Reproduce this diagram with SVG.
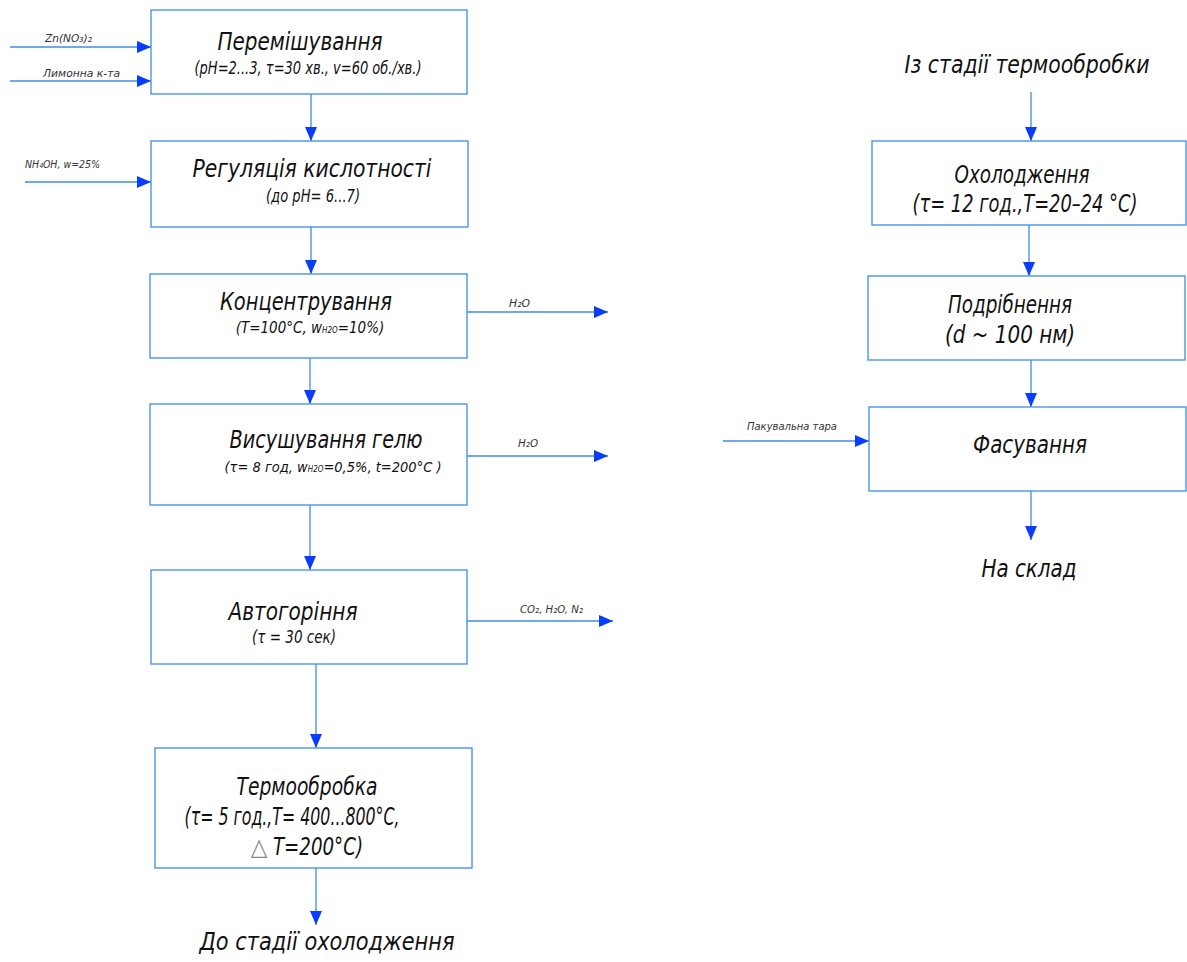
<svg xmlns="http://www.w3.org/2000/svg" width="1187" height="962" viewBox="0 0 1187 962">
<style>
.box{fill:#fff;stroke:#3b8ee6;stroke-width:1.3}
.ln{stroke:#3b8ee6;stroke-width:1.3;fill:none;marker-end:url(#ah)}
text{font-family:"DejaVu Sans Condensed","DejaVu Sans",sans-serif;font-style:italic;fill:#111;text-anchor:middle}
.t{font-size:24px}
.s{font-size:17px}
.l{font-size:11px;fill:#333;text-anchor:start}
</style>
<defs>
<marker id="ah" markerUnits="userSpaceOnUse" markerWidth="14" markerHeight="12" refX="14" refY="6" orient="auto">
<path d="M0,0 L14,6 L0,12 z" fill="#0a3cff"/>
</marker>
</defs>
<rect width="1187" height="962" fill="#fff"/>
<g id="connectors">
<line class="ln" x1="10" y1="47" x2="151" y2="47"/>
<line class="ln" x1="10" y1="81" x2="151" y2="81"/>
<line class="ln" x1="25" y1="182" x2="151" y2="182"/>
<line class="ln" x1="311" y1="94" x2="311" y2="141"/>
<line class="ln" x1="311" y1="227" x2="311" y2="274"/>
<line class="ln" x1="310" y1="358" x2="310" y2="404"/>
<line class="ln" x1="310" y1="505" x2="310" y2="570"/>
<line class="ln" x1="316" y1="664" x2="316" y2="748"/>
<line class="ln" x1="316" y1="868" x2="316" y2="925"/>
<line class="ln" x1="467" y1="312" x2="608" y2="312"/>
<line class="ln" x1="467" y1="456" x2="608" y2="456"/>
<line class="ln" x1="467" y1="621" x2="613" y2="621"/>
<line class="ln" x1="1031" y1="92" x2="1031" y2="141"/>
<line class="ln" x1="1029" y1="225" x2="1029" y2="276"/>
<line class="ln" x1="1031" y1="360" x2="1031" y2="407"/>
<line class="ln" x1="1031" y1="491" x2="1031" y2="540"/>
<line class="ln" x1="723" y1="441" x2="869" y2="441"/>
<text class="l" x="45" y="42" textLength="47" lengthAdjust="spacingAndGlyphs">Zn(NO₃)₂</text>
<text class="l" x="43" y="77" textLength="77" lengthAdjust="spacingAndGlyphs">Лимонна к-та</text>
<text class="l" x="25" y="168" textLength="75" lengthAdjust="spacingAndGlyphs">NH₄OH, w=25%</text>
<text class="l" x="509" y="307" textLength="21" lengthAdjust="spacingAndGlyphs">H₂O</text>
<text class="l" x="518" y="447" textLength="20" lengthAdjust="spacingAndGlyphs">H₂O</text>
<text class="l" x="520" y="613" textLength="63" lengthAdjust="spacingAndGlyphs">CO₂, H₂O, N₂</text>
<text class="l" x="747" y="430" textLength="90" lengthAdjust="spacingAndGlyphs">Пакувальна тара</text>
</g>
<g id="n1">
<rect class="box" x="151" y="10" width="316" height="84"/>
<text class="t" x="300" y="50" textLength="165" lengthAdjust="spacingAndGlyphs">Перемішування</text>
<text class="s" x="308" y="74" textLength="227" lengthAdjust="spacingAndGlyphs">(pH=2...3, τ=30 хв., v=60 об./хв.)</text>
</g>
<g id="n2">
<rect class="box" x="151" y="141" width="317" height="86"/>
<text class="t" x="312" y="177" textLength="239" lengthAdjust="spacingAndGlyphs">Регуляція кислотності</text>
<text class="s" x="313" y="202" textLength="94" lengthAdjust="spacingAndGlyphs">(до pH= 6...7)</text>
</g>
<g id="n3">
<rect class="box" x="150" y="274" width="317" height="84"/>
<text class="t" x="306" y="310" textLength="172" lengthAdjust="spacingAndGlyphs">Концентрування</text>
<text x="310" y="333" font-size="15">(T=100°C, w<tspan font-size="8">H2O</tspan>=10%)</text>
</g>
<g id="n4">
<rect class="box" x="150" y="404" width="317" height="101"/>
<text class="t" x="326" y="448" textLength="193" lengthAdjust="spacingAndGlyphs">Висушування гелю</text>
<text x="333" y="472" font-size="14.5">(τ= 8 год, w<tspan font-size="8">H2O</tspan>=0,5%, t=200°C )</text>
</g>
<g id="n5">
<rect class="box" x="151" y="570" width="316" height="94"/>
<text class="t" x="293" y="620" textLength="129" lengthAdjust="spacingAndGlyphs">Автогоріння</text>
<text class="s" x="294" y="643" textLength="84" lengthAdjust="spacingAndGlyphs">(τ = 30 сек)</text>
</g>
<g id="n6">
<rect class="box" x="155" y="748" width="317" height="120"/>
<text class="t" x="307" y="795" textLength="141" lengthAdjust="spacingAndGlyphs">Термообробка</text>
<text class="t" x="292" y="825" textLength="215" lengthAdjust="spacingAndGlyphs">(τ= 5 год.,T= 400...800°C,</text>
<text class="t" x="259" y="855" style="fill:#888">△</text>
<text class="t" x="318" y="855" textLength="90" lengthAdjust="spacingAndGlyphs">T=200°C)</text>
</g>
<g id="out1">
<text class="t" x="327" y="950" textLength="255" lengthAdjust="spacingAndGlyphs">До стадії охолодження</text>
</g>
<g id="in2">
<text class="t" x="1027" y="73" textLength="245" lengthAdjust="spacingAndGlyphs">Із стадії термообробки</text>
</g>
<g id="n7">
<rect class="box" x="872" y="141" width="314" height="84"/>
<text class="t" x="1022" y="183" textLength="135" lengthAdjust="spacingAndGlyphs">Охолодження</text>
<text class="t" x="1025" y="212" textLength="225" lengthAdjust="spacingAndGlyphs">(τ= 12 год.,T=20–24 °C)</text>
</g>
<g id="n8">
<rect class="box" x="868" y="276" width="317" height="84"/>
<text class="t" x="1010" y="313" textLength="124" lengthAdjust="spacingAndGlyphs">Подрібнення</text>
<text class="t" x="1010" y="343" textLength="130" lengthAdjust="spacingAndGlyphs">(d ~ 100 нм)</text>
</g>
<g id="n9">
<rect class="box" x="869" y="407" width="317" height="84"/>
<text class="t" x="1030" y="453" textLength="114" lengthAdjust="spacingAndGlyphs">Фасування</text>
</g>
<g id="out2">
<text class="t" x="1029" y="577" textLength="95" lengthAdjust="spacingAndGlyphs">На склад</text>
</g>
</svg>
